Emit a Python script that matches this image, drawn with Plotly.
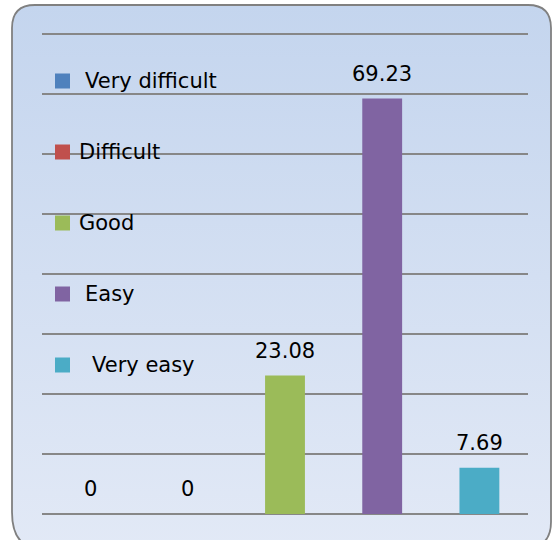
import plotly.graph_objects as go
import urllib.parse

categories = ["Very difficult", "Difficult", "Good", "Easy", "Very easy"]
values = [0, 0, 23.08, 69.23, 7.69]
value_labels = ["0", "0", "23.08", "69.23", "7.69"]
colors = ["#4f81bd", "#c0504d", "#9bbb59", "#8064a2", "#4bacc6"]
legend_labels = ["Very difficult", "Difficult", "Good", "Easy", "Very easy"]

W, H = 553, 540
L, R, T, B = 42, 528, 26, 514
PW, PH = R - L, B - T
YMAX = 80 * PH / (B - 34)

def px(x):
    return (x - L) / PW

def py(y):
    return (B - y) / PH

FONT = "DejaVu Sans"
FS = 21

fig = go.Figure()
fig.add_trace(go.Bar(
    x=categories, y=values,
    marker=dict(color=colors, line=dict(width=0)),
    width=0.41,
    showlegend=False, hoverinfo="skip",
))

for c, v, t in zip(categories, values, value_labels):
    fig.add_annotation(x=c, y=v, text=t, showarrow=False, yanchor="middle",
                       yshift=25, font=dict(family=FONT, size=FS, color="#000000"))

# background card with gradient and rounded border
svg = ('<svg xmlns="http://www.w3.org/2000/svg" width="553" height="540" viewBox="0 0 553 540">'
       '<defs><linearGradient id="g" x1="0" y1="0" x2="0" y2="1">'
       '<stop offset="0" stop-color="#c4d5ee"/><stop offset="1" stop-color="#e2e9f6"/>'
       '</linearGradient></defs>'
       '<path d="M12,28 Q12,5 35,5 L528,5 Q551,5 551,28 L551,522 Q551,548 525,548 L40,548 Q12,548 12,512 Z" '
       'fill="url(#g)" stroke="#808080" stroke-width="1.8"/></svg>')
src = "data:image/svg+xml;charset=utf-8," + urllib.parse.quote(svg)
fig.add_layout_image(dict(source=src, xref="paper", yref="paper",
                          x=px(0), y=py(0), sizex=W / PW, sizey=H / PH,
                          xanchor="left", yanchor="top", sizing="stretch", layer="below"))

# legend drawn by hand (squares + labels)
leg_y = [81, 152, 223, 294, 365]
leg_tx = [83, 77, 77, 83, 90]
for lab, col, yc, tx in zip(legend_labels, colors, leg_y, leg_tx):
    fig.add_shape(type="rect", xref="paper", yref="paper",
                  x0=px(55), x1=px(70), y0=py(yc + 7.5), y1=py(yc - 7.5),
                  fillcolor=col, line=dict(width=0), layer="above")
    fig.add_annotation(xref="paper", yref="paper", x=px(tx), y=py(yc), text=lab,
                       showarrow=False, xanchor="left", yanchor="middle",
                       font=dict(family=FONT, size=FS, color="#000000"))

fig.update_layout(
    width=W, height=H,
    margin=dict(l=L, r=W - R, t=T, b=H - B, pad=0),
    paper_bgcolor="#ffffff",
    plot_bgcolor="rgba(0,0,0,0)",
    bargap=0.59,
    font=dict(family=FONT, size=FS, color="#000000"),
)
fig.update_xaxes(showticklabels=False, showgrid=False, showline=False, ticks="",
                 zeroline=False)
fig.update_yaxes(range=[0, YMAX], tick0=0, dtick=10, showticklabels=False, ticks="",
                 showgrid=True, gridcolor="#878787", gridwidth=2,
                 zeroline=True, zerolinecolor="#878787", zerolinewidth=2,
                 showline=False)

fig.write_html("out.html", config={"displayModeBar": False},
               post_script="document.body.style.margin='0px';document.body.style.overflow='hidden';")
